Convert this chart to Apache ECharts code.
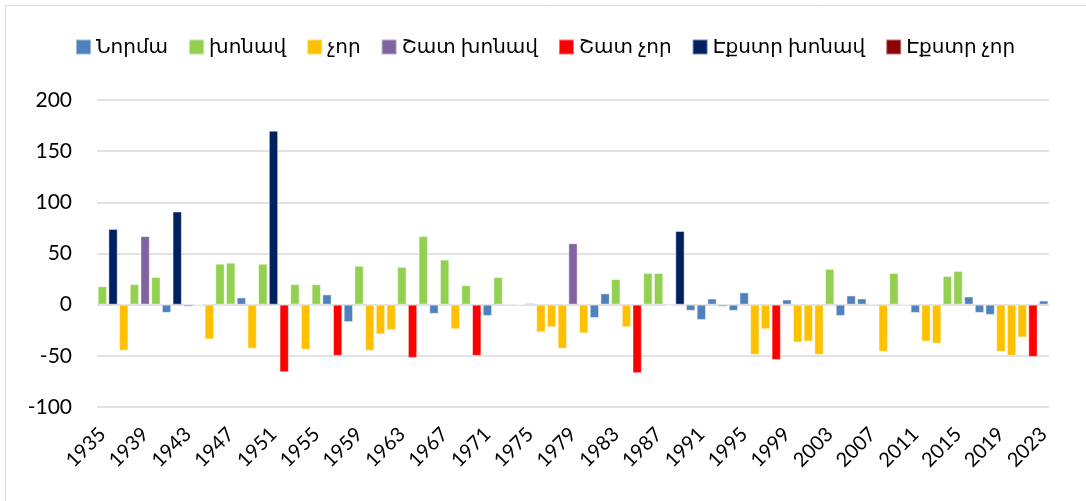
<!DOCTYPE html>
<html>
<head>
<meta charset="utf-8">
<script src="https://cdn.jsdelivr.net/npm/echarts@6/dist/echarts.min.js"></script>
<style>html,body{margin:0;padding:0;background:#fff;}#c{width:1086px;height:501px;}</style>
</head>
<body>
<div id="c"></div>
<script>
// Series names (legend order) and colors
const seriesNames = ['Նորմա', 'խոնավ', 'չոր', 'Շատ խոնավ', 'Շատ չոր', 'Էքստր խոնավ', 'Էքստր չոր'];
const seriesColors = ['#4F81BD', '#92D050', '#FFC000', '#8064A2', '#FF0000', '#002060', '#8B0000'];

// Years 1935..2023
const years = [];
for (let y = 1935; y <= 2023; y++) years.push(String(y));

// Anomaly values per year
const values = [
  18, 74, -45, 20, 67,            // 1935-1939
  27, -8, 91, -2, 0, -34, 40, 41, 7, -43,   // 1940-1949
  40, 170, -66, 20, -44, 20, 10, -50, -17, 38, // 1950-1959
  -45, -29, -25, 37, -52, 67, -9, 44, -24, 19, // 1960-1969
  -50, -11, 27, 1, 0, 1.5, -27, -22, -43, 60,  // 1970-1979
  -28, -13, 11, 25, -22, -67, 31, 31, -1, 72,  // 1980-1989
  -6, -15, 6, -2, -6, 12, -49, -24, -54, 5,    // 1990-1999
  -37, -36, -49, 35, -11, 9, 6, 1, -46, 31,    // 2000-2009
  0, -8, -36, -38, 28, 33, 8, -8, -10, -46,    // 2010-2019
  -50, -32, -51, 4                              // 2020-2023
];

// Class of each year: index into seriesNames
// 0 Նորմա, 1 խոնավ, 2 չոր, 3 Շատ խոնավ, 4 Շատ չոր, 5 Էքստր խոնավ, 6 Էքստր չոր
const classes = [
  1, 5, 2, 1, 3,
  1, 0, 5, 0, 0, 2, 1, 1, 0, 2,
  1, 5, 4, 1, 2, 1, 0, 4, 0, 1,
  2, 2, 2, 1, 4, 1, 0, 1, 2, 1,
  4, 0, 1, 0, 0, 0, 2, 2, 2, 3,
  2, 0, 0, 1, 2, 4, 1, 1, 0, 5,
  0, 0, 0, 0, 0, 0, 2, 2, 4, 0,
  2, 2, 2, 1, 0, 0, 0, 0, 2, 1,
  0, 0, 2, 2, 1, 1, 0, 0, 0, 2,
  2, 2, 4, 0
];

const yTicks = { min: -100, max: 200, interval: 50 };

const FONT = "Lato, 'DejaVu Sans', sans-serif";

const series = seriesNames.map((name, si) => ({
  name: name,
  type: 'bar',
  barWidth: '87%',
  barGap: '-100%',
  itemStyle: { color: seriesColors[si], borderColor: 'rgba(255,255,255,0.45)', borderWidth: 1 },
  emphasis: { disabled: true },
  data: values.map((v, i) => classes[i] === si ? v : null)
}));

const chart = echarts.init(document.getElementById('c'), null, { renderer: 'canvas' });
chart.setOption({
  animation: false,
  backgroundColor: '#fff',
  textStyle: { fontFamily: FONT },
  graphic: [{
    type: 'rect',
    shape: { x: 5.5, y: 5.5, width: 1100, height: 600 },
    style: { fill: 'none', stroke: '#D9D9D9', lineWidth: 1 },
    silent: true
  }],
  legend: {
    top: 37,
    left: 75,
    padding: 0,
    itemWidth: 15,
    itemHeight: 15,
    itemGap: 20,
    icon: 'rect',
    textStyle: { fontSize: 20, color: '#000', fontFamily: FONT },
    data: seriesNames
  },
  grid: { left: 97, right: 37, top: 100, bottom: 94, containLabel: false },
  xAxis: {
    type: 'category',
    data: years,
    axisLine: { show: false, onZero: false },
    axisTick: { show: false },
    axisLabel: {
      interval: 3,
      rotate: 45,
      fontSize: 20,
      color: '#000',
      margin: 24,
      fontFamily: FONT
    },
    splitLine: { show: false }
  },
  yAxis: {
    type: 'value',
    min: yTicks.min,
    max: yTicks.max,
    interval: yTicks.interval,
    axisLine: { show: false },
    axisTick: { show: false },
    axisLabel: { fontSize: 21, color: '#000', margin: 25, fontFamily: FONT },
    splitLine: { lineStyle: { color: '#D9D9D9', width: 1.5 } }
  },
  series: series
});
</script>
</body>
</html>
